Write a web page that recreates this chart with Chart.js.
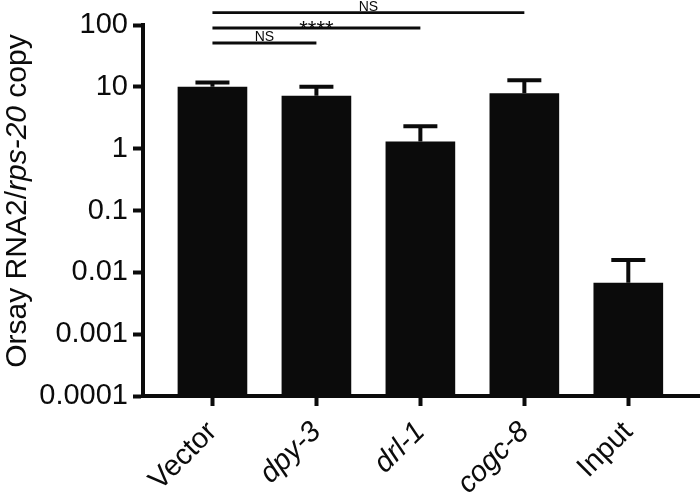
<!DOCTYPE html>
<html>
<head>
<meta charset="utf-8">
<script src="https://cdn.jsdelivr.net/npm/chart.js@4/dist/chart.umd.min.js"></script>
<style>
  html, body { margin: 0; padding: 0; background: #fff; }
  #wrap { width: 700px; height: 496px; position: relative; }
</style>
</head>
<body>
<div id="wrap"><canvas id="grafica"></canvas></div>
<script>
const categories = ["Vector", "dpy-3", "drl-1", "cogc-8", "Input"];
const italicLabels = [false, true, true, true, false];
const means = [10.0, 7.2, 1.3, 7.85, 0.0068];
const upperErrors = [1.7, 2.8, 1.0, 4.9, 0.009];
const yTicks = [0.0001, 0.001, 0.01, 0.1, 1, 10, 100];
const comparisons = [
    { from: 0, to: 1, label: "NS" },
    { from: 0, to: 2, label: "****" },
    { from: 0, to: 3, label: "NS" }
];

const fontFamily = "'Liberation Sans', Arial, sans-serif";
const ink = "#0b0b0b";

// error bars, upper side only
const errorBars = {
    id: "errorBars",
    afterDatasetsDraw(chart) {
        const ctx = chart.ctx;
        const xs = chart.scales.x;
        const ys = chart.scales.y;
        ctx.save();
        ctx.strokeStyle = ink;
        ctx.lineWidth = 4;
        means.forEach((m, i) => {
            const x = xs.getPixelForValue(i);
            const yBar = ys.getPixelForValue(m);
            const yTop = ys.getPixelForValue(m + upperErrors[i]);
            ctx.beginPath();
            ctx.moveTo(x, yBar);
            ctx.lineTo(x, yTop);
            ctx.moveTo(x - 17, yTop);
            ctx.lineTo(x + 17, yTop);
            ctx.stroke();
        });
        ctx.restore();
    }
};

// significance lines above the bars
const brackets = {
    id: "brackets",
    afterDraw(chart) {
        const ctx = chart.ctx;
        const xs = chart.scales.x;
        const top = chart.chartArea.top;
        const offsets = [18, 3, -12.3];
        ctx.save();
        ctx.strokeStyle = ink;
        ctx.fillStyle = ink;
        ctx.lineWidth = 2.8;
        ctx.textAlign = "center";
        ctx.textBaseline = "alphabetic";
        comparisons.forEach((c, k) => {
            const x1 = xs.getPixelForValue(c.from);
            const x2 = xs.getPixelForValue(c.to);
            const y = top + offsets[k];
            ctx.beginPath();
            ctx.moveTo(x1, y);
            ctx.lineTo(x2, y);
            ctx.stroke();
            if (c.label === "****") {
                ctx.font = "22px " + fontFamily;
                ctx.fillText(c.label, (x1 + x2) / 2, y + 8);
            } else {
                ctx.font = "14px " + fontFamily;
                ctx.fillText(c.label, (x1 + x2) / 2, y - 2);
            }
        });
        ctx.restore();
    }
};

// y title with the gene name in italics
const yTitle = {
    id: "yTitle",
    afterDraw(chart) {
        const ctx = chart.ctx;
        const parts = [
            { text: "Orsay RNA2/", style: "normal" },
            { text: "rps-20", style: "italic" },
            { text: " copy", style: "normal" }
        ];
        const size = 30;
        ctx.save();
        let total = 0;
        parts.forEach(p => {
            ctx.font = p.style + " " + size + "px " + fontFamily;
            p.w = ctx.measureText(p.text).width;
            total += p.w;
        });
        ctx.translate(26, 201);
        ctx.rotate(-Math.PI / 2);
        ctx.fillStyle = ink;
        ctx.textBaseline = "alphabetic";
        ctx.textAlign = "left";
        let x = -total / 2;
        parts.forEach(p => {
            ctx.font = p.style + " " + size + "px " + fontFamily;
            ctx.fillText(p.text, x, 0);
            x += p.w;
        });
        ctx.restore();
    }
};

const grafica = new Chart("grafica", {
    type: "bar",
    data: {
        datasets: [{
            data: means.map((v, i) => ({ x: i, y: v })),
            backgroundColor: ink,
            borderWidth: 0,
            barPercentage: 0.67,
            categoryPercentage: 1
        }]
    },
    plugins: [errorBars, brackets, yTitle],
    options: {
        responsive: true,
        maintainAspectRatio: false,
        animation: false,
        layout: { padding: { top: 25, right: 1, left: 0, bottom: 0 } },
        plugins: {
            legend: { display: false },
            tooltip: { enabled: false }
        },
        scales: {
            x: {
                type: "linear",
                offset: false,
                min: -0.668,
                max: 4.68,
                afterBuildTicks: (scale) => {
                    scale.ticks = categories.map((c, i) => ({ value: i }));
                },
                afterFit: (scale) => { scale.height = 100; },
                border: { display: true, color: ink, width: 4 },
                grid: {
                    offset: false,
                    drawOnChartArea: false,
                    drawTicks: true,
                    tickLength: 10,
                    tickWidth: 4,
                    tickColor: ink
                },
                ticks: {
                    autoSkip: false,
                    minRotation: 45,
                    maxRotation: 45,
                    padding: 9,
                    color: ink,
                    font: (c) => ({
                        family: fontFamily,
                        size: 29,
                        style: italicLabels[c.index] ? "italic" : "normal"
                    }),
                    callback: (v) => categories[v]
                }
            },
            y: {
                type: "logarithmic",
                min: 0.0001,
                max: 100,
                afterBuildTicks: (scale) => {
                    scale.ticks = yTicks.map(v => ({ value: v, major: true }));
                },
                afterFit: (scale) => { scale.width = 143; },
                border: { display: true, color: ink, width: 4 },
                grid: {
                    drawOnChartArea: false,
                    drawTicks: true,
                    tickLength: 10,
                    tickWidth: 4,
                    tickColor: ink
                },
                ticks: {
                    padding: 5,
                    color: ink,
                    font: { family: fontFamily, size: 29 },
                    callback: (v) => String(v)
                }
            }
        }
    }
});
</script>
</body>
</html>
